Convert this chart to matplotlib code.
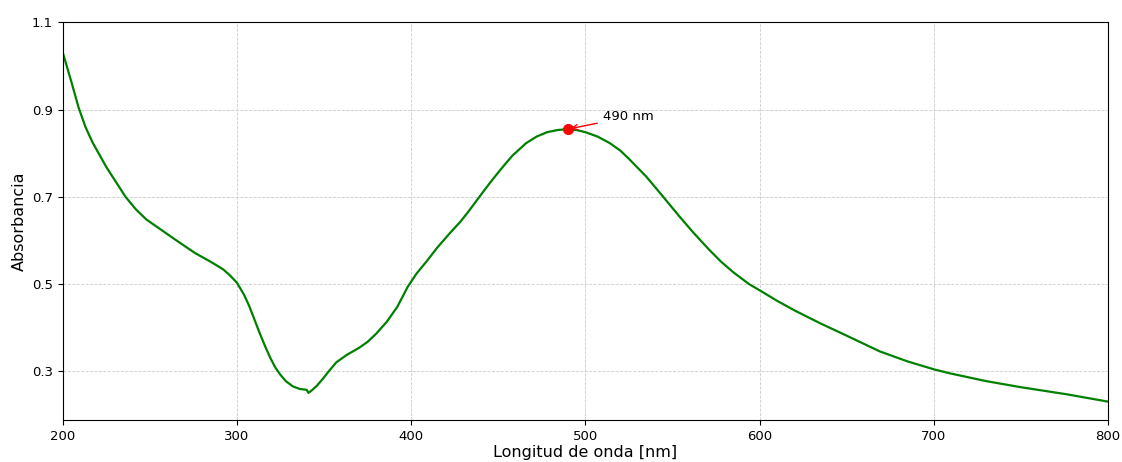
import matplotlib
matplotlib.use('Agg')

import matplotlib.pyplot as plt

# Espectro de absorbancia
longitud = [200, 205, 209, 213, 217, 225, 236, 242, 248, 257, 266, 276, 285,
            292, 296, 300, 304, 307, 310, 313, 316, 319, 322, 325, 328, 332,
            336, 340, 341, 343, 346, 349, 353, 357, 363, 370, 375, 380, 386,
            392, 398, 403, 409, 415, 422, 428, 433, 438, 445, 451, 458, 466,
            472, 478, 484, 490, 495, 500, 507, 514, 520, 525, 535, 543, 554,
            562, 571, 578, 585, 594, 600, 610, 620, 635, 650, 669, 685, 700,
            709, 730, 750, 776, 800]
absorbancia = [1.030, 0.962, 0.905, 0.860, 0.825, 0.768, 0.700, 0.671, 0.648,
               0.623, 0.598, 0.571, 0.551, 0.534, 0.520, 0.503, 0.476, 0.450,
               0.419, 0.388, 0.359, 0.332, 0.309, 0.292, 0.278, 0.266, 0.260,
               0.258, 0.251, 0.257, 0.268, 0.282, 0.302, 0.321, 0.338, 0.354,
               0.368, 0.387, 0.414, 0.448, 0.494, 0.524, 0.553, 0.584, 0.616,
               0.642, 0.667, 0.694, 0.731, 0.761, 0.794, 0.823, 0.838, 0.848,
               0.853, 0.855, 0.853, 0.848, 0.838, 0.823, 0.806, 0.787, 0.746,
               0.708, 0.655, 0.618, 0.579, 0.551, 0.527, 0.500, 0.486, 0.462,
               0.440, 0.410, 0.382, 0.346, 0.323, 0.305, 0.296, 0.278, 0.264,
               0.248, 0.231]

pico_x = 490
pico_y = 0.855

fig = plt.figure(figsize=(11.22, 4.62), dpi=100)
ax = fig.add_axes([0.056, 0.091, 0.9315, 0.861])

ax.plot(longitud, absorbancia, color='green', linewidth=1.6)
ax.plot(pico_x, pico_y, 'o', color='red', markersize=7)
ax.annotate(f'{pico_x} nm', xy=(pico_x, pico_y), xytext=(pico_x + 20, pico_y + 0.028),
            fontsize=9.5, va='center',
            arrowprops=dict(arrowstyle='->', color='red', lw=1))

ax.set_xlim(200, 800)
ax.set_ylim(0.189, 1.1)
ax.set_yticks([0.3, 0.5, 0.7, 0.9, 1.1])
ax.tick_params(labelsize=9.5)
ax.set_xlabel('Longitud de onda [nm]', fontsize=11.5, labelpad=2)
ax.set_ylabel('Absorbancia', fontsize=11.5)
ax.grid(True, linestyle='--', linewidth=0.6, color='#cccccc')

plt.savefig('out.png', dpi=100)
